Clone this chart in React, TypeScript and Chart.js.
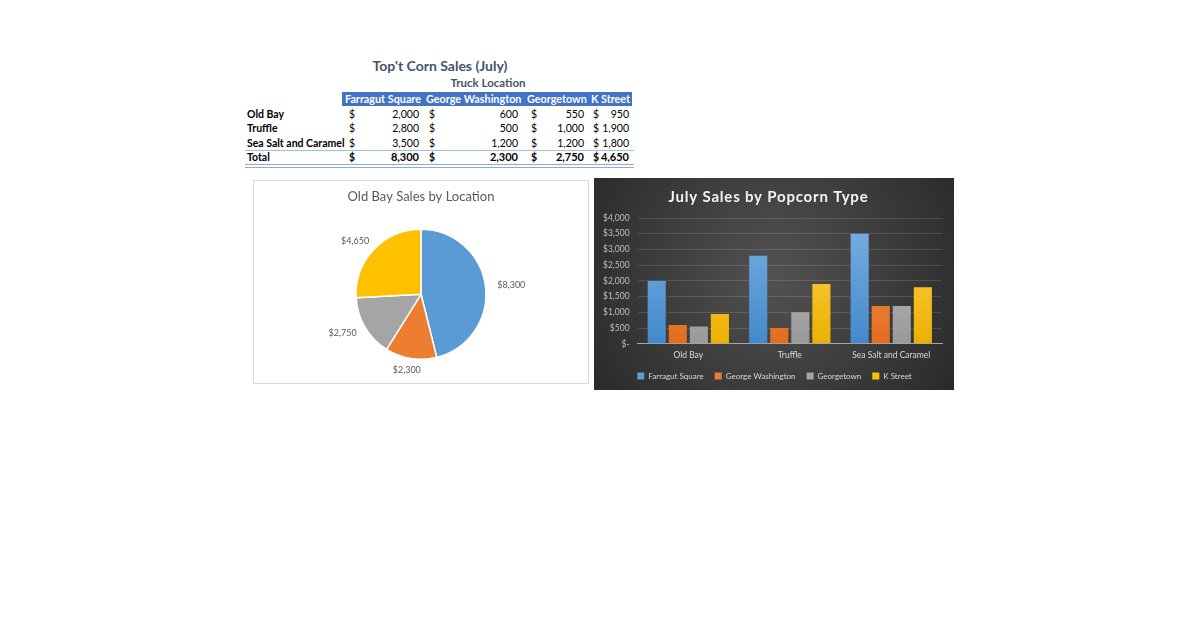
import React, { useEffect, useRef } from "react";
import { Chart, registerables } from "chart.js";

Chart.register(...registerables);

// ---------- data ----------
const tableTitle = "Top't Corn Sales (July)";
const tableSubtitle = "Truck Location";
const popcornTypes = ["Old Bay", "Truffle", "Sea Salt and Caramel"];
const locations = ["Farragut Square", "George Washington", "Georgetown", "K Street"];
const farragutSquare = [2000, 2800, 3500];
const georgeWashington = [600, 500, 1200];
const georgetown = [550, 1000, 1200];
const kStreet = [950, 1900, 1800];
const totalLabel = "Total";
const locationTotals = [8300, 2300, 2750, 4650];
const pieTitle = "Old Bay Sales by Location";
const barTitle = "July Sales by Popcorn Type";
const yMax = 4000;
const yStep = 500;

// ---------- styles ----------
const seriesColors = ["#5B9BD5", "#ED7D31", "#A5A5A5", "#FFC000"];
const seriesLight = ["#7bb0e2", "#f49d60", "#c2c2c2", "#ffd655"];
const seriesDark = ["#4389cb", "#e26c1e", "#999999", "#ebb000"];
const FONT = "Lato, 'Open Sans', sans-serif";

const fmt = (v: number) => v.toLocaleString("en-US");

// table geometry (page px)
const colGeom = [
  { headerLeft: 345, dollar: 349, valueRight: 419 },
  { headerLeft: 426, dollar: 429, valueRight: 518 },
  { headerLeft: 527, dollar: 531, valueRight: 584 },
  { headerLeft: 591, dollar: 593, valueRight: 629 },
];
const rowCenters = [114, 128, 143];
const totalCenter = 157;

function Cell(props: { x: number; y: number; text: string; bold?: boolean; align?: "left" | "right"; color?: string; size?: number }) {
  const { x, y, text, bold, align = "left", color = "#000", size = 10.5 } = props;
  const style: React.CSSProperties = {
    position: "absolute",
    top: y - 7,
    height: 14,
    lineHeight: "14px",
    fontSize: size,
    fontFamily: FONT,
    fontWeight: bold ? 700 : 400,
    color,
    whiteSpace: "nowrap",
  };
  if (align === "left") style.left = x;
  else style.right = 1200 - x;
  return <span style={style}>{text}</span>;
}

function DataTable() {
  const columns = [farragutSquare, georgeWashington, georgetown, kStreet];
  return (
    <>
      <div style={{ position: "absolute", left: 340, top: 57, width: 200, textAlign: "center", fontFamily: FONT, fontWeight: 700, fontSize: 14, color: "#44546A", lineHeight: "18px" }}>{tableTitle}</div>
      <div style={{ position: "absolute", left: 438, top: 75, width: 100, textAlign: "center", fontFamily: FONT, fontWeight: 700, fontSize: 11.5, color: "#44546A", lineHeight: "15px" }}>{tableSubtitle}</div>
      <div style={{ position: "absolute", left: 342, top: 92, width: 290, height: 14, background: "#4472C4" }} />
      {locations.map((loc, i) => (
        <Cell key={loc} x={colGeom[i].headerLeft} y={99} text={loc} bold color="#ffffff" size={10.8} />
      ))}
      {popcornTypes.map((p, r) => (
        <React.Fragment key={p}>
          <Cell x={247} y={rowCenters[r]} text={p} bold />
          {columns.map((col, c) => (
            <React.Fragment key={c}>
              <Cell x={colGeom[c].dollar} y={rowCenters[r]} text="$" />
              <Cell x={colGeom[c].valueRight} y={rowCenters[r]} text={fmt(col[r])} align="right" />
            </React.Fragment>
          ))}
        </React.Fragment>
      ))}
      <div style={{ position: "absolute", left: 245, top: 150, width: 389, height: 1, background: "#9BC2E6" }} />
      <Cell x={247} y={totalCenter} text={totalLabel} bold />
      {locationTotals.map((t, c) => (
        <React.Fragment key={c}>
          <Cell x={colGeom[c].dollar} y={totalCenter} text="$" bold />
          <Cell x={colGeom[c].valueRight} y={totalCenter} text={fmt(t)} align="right" bold size={11} />
        </React.Fragment>
      ))}
      <div style={{ position: "absolute", left: 245, top: 164, width: 389, height: 1, background: "#8EA9DB" }} />
      <div style={{ position: "absolute", left: 245, top: 167, width: 389, height: 1, background: "#8EA9DB" }} />
    </>
  );
}

const pieLabelPlugin = {
  id: "pieLabels",
  afterDatasetsDraw(chart: any) {
    const ctx = chart.ctx;
    const meta = chart.getDatasetMeta(0);
    const data = chart.data.datasets[0].data as number[];
    ctx.save();
    ctx.font = `9px ${FONT}`;
    ctx.fillStyle = "#595959";
    ctx.textAlign = "center";
    ctx.textBaseline = "middle";
    meta.data.forEach((arc: any, i: number) => {
      const p = arc.getProps(["x", "y", "startAngle", "endAngle", "outerRadius"], true);
      const mid = (p.startAngle + p.endAngle) / 2;
      const d = p.outerRadius + 8;
      const cx = Math.cos(mid);
      const sy = Math.sin(mid);
      ctx.fillText("$" + fmt(data[i]), p.x + cx * (d + 18), p.y + sy * (d + 4));
    });
    ctx.restore();
  },
};

function PieChart() {
  const ref = useRef<HTMLCanvasElement>(null);
  useEffect(() => {
    const chart = new Chart(ref.current!, {
      type: "pie",
      data: {
        labels: locations,
        datasets: [{ data: locationTotals, backgroundColor: seriesColors, borderColor: "#ffffff", borderWidth: 1.5 }],
      },
      options: {
        animation: false,
        responsive: false,
        maintainAspectRatio: false,
        layout: { padding: { top: 0, bottom: 23, left: 0, right: 0 } },
        plugins: {
          legend: { display: false },
          tooltip: { enabled: false },
          title: {
            display: true,
            text: pieTitle,
            color: "#595959",
            font: { family: FONT, size: 13, weight: "normal" },
            padding: { top: 8, bottom: 24 },
          },
        },
      },
      plugins: [pieLabelPlugin],
    });
    return () => chart.destroy();
  }, []);
  return (
    <div style={{ position: "absolute", left: 253, top: 180, width: 334, height: 202, border: "1px solid #d9d9d9", background: "#fff" }}>
      <canvas ref={ref} width={334} height={202} style={{ display: "block" }} />
    </div>
  );
}

const darkBgPlugin = {
  id: "darkBg",
  afterInit(chart: any) {
    const t = chart.titleBlock;
    if (t) {
      const orig = t.draw.bind(t);
      t.draw = (area: any) => {
        const c = chart.ctx;
        c.save();
        c.letterSpacing = "0.8px";
        orig(area);
        c.restore();
      };
    }
  },
  afterLayout(chart: any) {
    const lg = chart.legend;
    if (lg) {
      lg.left += 6;
      lg.right += 6;
    }
  },
  beforeDraw(chart: any) {
    const { ctx, width, height } = chart;
    ctx.save();
    const g = ctx.createRadialGradient(width / 2, height * 0.45, 10, width / 2, height * 0.45, width * 0.65);
    g.addColorStop(0, "#505050");
    g.addColorStop(1, "#262626");
    ctx.fillStyle = g;
    ctx.fillRect(0, 0, width, height);
    ctx.restore();
  },
};

function barFill(i: number) {
  return (c: any) => {
    const chart = c.chart;
    const area = chart.chartArea;
    if (!area) return seriesColors[i];
    const g = chart.ctx.createLinearGradient(0, area.top, 0, area.bottom);
    g.addColorStop(0, seriesLight[i]);
    g.addColorStop(1, seriesDark[i]);
    return g;
  };
}

function BarChart() {
  const ref = useRef<HTMLCanvasElement>(null);
  useEffect(() => {
    const series = [farragutSquare, georgeWashington, georgetown, kStreet];
    const chart = new Chart(ref.current!, {
      type: "bar",
      data: {
        labels: popcornTypes,
        datasets: series.map((s, i) => ({
          label: locations[i],
          data: s,
          backgroundColor: barFill(i),
          borderWidth: 0,
          categoryPercentage: 0.83,
          barPercentage: 0.86,
        })),
      },
      options: {
        animation: false,
        responsive: false,
        maintainAspectRatio: false,
        layout: { padding: { top: 6, right: 12, left: 1, bottom: 0 } },
        plugins: {
          tooltip: { enabled: false },
          title: {
            display: true,
            text: barTitle,
            color: "#f2f2f2",
            font: { family: FONT, size: 15, weight: "bold" },
            padding: { top: 4, bottom: 12 },
          },
          legend: {
            position: "bottom",
            labels: {
              color: "#d9d9d9",
              boxWidth: 7,
              boxHeight: 7,
              padding: 11,
              font: { family: FONT, size: 8 },
              generateLabels: (ch: any) => {
                const items = Chart.defaults.plugins.legend.labels.generateLabels(ch);
                return items.map((it: any, i: number) => ({ ...it, fillStyle: seriesColors[i], strokeStyle: seriesColors[i], lineWidth: 0 }));
              },
            },
          },
        },
        scales: {
          y: {
            min: 0,
            max: yMax,
            ticks: {
              stepSize: yStep,
              color: "#bfbfbf",
              font: { family: FONT, size: 8.5 },
              padding: 8,
              callback: (v: any) => (Number(v) === 0 ? "$-" : "$" + fmt(Number(v))),
            },
            grid: { color: "rgba(255,255,255,0.13)", drawTicks: false },
            border: { display: false },
          },
          x: {
            ticks: { color: "#d9d9d9", font: { family: FONT, size: 8.5 }, padding: 6 },
            grid: { display: false, drawTicks: false },
            border: { display: true, color: "#a6a6a6", width: 1 },
            afterFit: (scale: any) => {
              scale.height = scale.height - 5;
            },
          },
        },
      },
      plugins: [darkBgPlugin],
    });
    return () => chart.destroy();
  }, []);
  return (
    <div style={{ position: "absolute", left: 594, top: 178, width: 360, height: 212 }}>
      <canvas ref={ref} width={360} height={212} style={{ display: "block" }} />
    </div>
  );
}

export default function App() {
  return (
    <div style={{ position: "absolute", left: 0, top: 0, width: 1200, height: 630, background: "#ffffff", overflow: "hidden" }}>
      <DataTable />
      <PieChart />
      <BarChart />
    </div>
  );
}
